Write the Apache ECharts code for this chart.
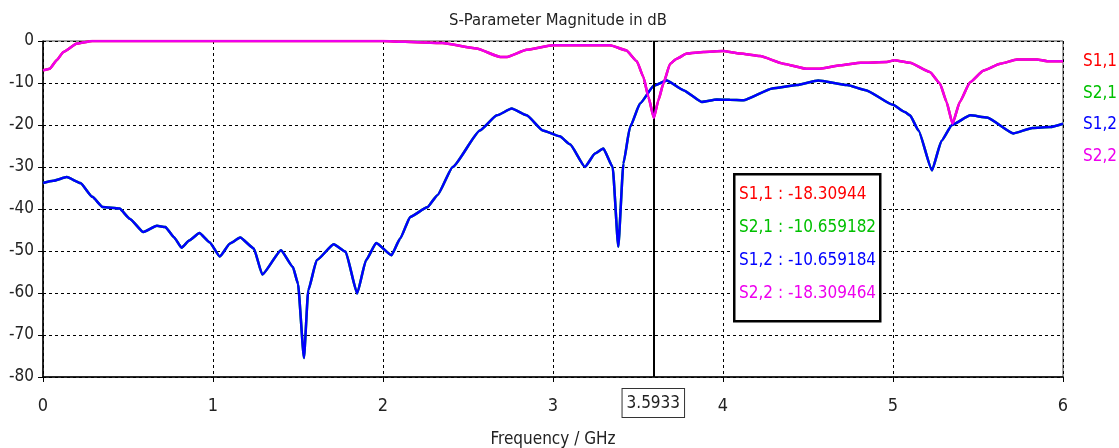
<!DOCTYPE html>
<html>
<head>
<meta charset="utf-8">
<title>S-Parameter Magnitude in dB</title>
<script src="https://cdn.jsdelivr.net/npm/echarts@6.0.0/dist/echarts.min.js"></script>
<style>
  html, body { margin: 0; padding: 0; background: #fff; }
  #chartDiv { width: 1119px; height: 448px; }
</style>
</head>
<body>
<div id="chartDiv"></div>
<script>
// S1,2 / S2,1 (transmission)
var s12Freq = [0, 0.06, 0.14, 0.22, 0.29, 0.35, 0.45, 0.51, 0.59, 0.67, 0.72, 0.77, 0.815, 0.86, 0.92, 0.98,
	1.04, 1.10, 1.16, 1.24, 1.29, 1.40, 1.47, 1.50, 1.535, 1.56, 1.61, 1.71, 1.78, 1.848, 1.90, 1.96,
	2.05, 2.10, 2.16, 2.26, 2.32, 2.41, 2.57, 2.67, 2.757, 2.845, 2.94, 3.04, 3.10, 3.188, 3.247, 3.296,
	3.351, 3.384, 3.414, 3.453, 3.512, 3.5933, 3.669, 3.767, 3.875, 3.963, 4.04, 4.12, 4.29, 4.434, 4.56,
	4.73, 4.84, 5.00, 5.07, 5.10, 5.15, 5.229, 5.285, 5.347, 5.455, 5.553, 5.709, 5.82, 5.925, 6.0];
var s12Db = [-33.8, -33.3, -32.4, -33.8, -37.1, -39.5, -39.9, -42.3, -45.5, -44.0, -44.3, -46.7, -49.2, -47.5, -45.7, -47.9,
	-51.3, -48.2, -46.8, -49.4, -55.6, -49.8, -53.8, -57.8, -75.5, -59.4, -52.2, -48.4, -50.2, -60.1, -52.2, -48.1,
	-51.0, -47.1, -41.9, -39.6, -36.7, -30.0, -21.3, -17.7, -16.1, -17.7, -21.3, -22.7, -24.6, -30.0, -26.8, -25.6,
	-30.0, -49.0, -29.2, -20.5, -14.9, -10.66, -9.4, -11.7, -14.5, -13.95, -14.0, -14.1, -11.3, -10.5, -9.4,
	-10.5, -11.7, -15.2, -16.9, -17.7, -21.3, -30.8, -23.8, -20.0, -17.7, -18.2, -22.0, -20.7, -20.5, -19.7];

// S1,1 / S2,2 (reflection)
var s22Freq = [0, 0.04, 0.08, 0.12, 0.2, 0.29, 1.0, 2.0, 2.13, 2.35, 2.55, 2.69, 2.73, 2.845, 3.0, 3.335,
	3.43, 3.493, 3.532, 3.561, 3.5933, 3.62, 3.65, 3.689, 3.728, 3.787, 3.885, 4.0, 4.1, 4.218, 4.355,
	4.49, 4.57, 4.69, 4.81, 4.964, 5.007, 5.1, 5.217, 5.276, 5.315, 5.35, 5.393, 5.453, 5.533, 5.631,
	5.729, 5.847, 5.906, 6.0];
var s22Db = [-7.0, -6.6, -4.6, -2.6, -0.6, 0, 0, 0, -0.2, -0.5, -1.8, -3.8, -3.8, -2.1, -1.0, -1.0,
	-2.2, -4.8, -8.6, -13.3, -18.31, -14.1, -10.0, -5.4, -4.2, -3.0, -2.6, -2.4, -3.0, -3.6, -5.4,
	-6.6, -6.6, -5.8, -5.2, -5.0, -4.6, -5.2, -7.4, -10.1, -14.5, -19.7, -14.5, -9.8, -7.0, -5.4,
	-4.4, -4.4, -4.8, -4.8];

var seriesNames = ['S1,1', 'S2,1', 'S1,2', 'S2,2'];
var seriesColors = ['#ff0000', '#00c000', '#0000ff', '#ee00ee'];

// marker readout
var markerFreq = 3.5933;
var markerLabels = ['S1,1 : -18.30944', 'S2,1 : -10.659182', 'S1,2 : -10.659184', 'S2,2 : -18.309464'];

var xTicks = [0, 6, 1];     // min, max, interval
var yTicks = [-80, 0, 10];

var fontFam = "'DejaVu Sans Condensed', 'DejaVu Sans', sans-serif";

function pairs(xs, ys) {
	var out = [];
	for (var i = 0; i < xs.length; i++) {
		out.push([xs[i], ys[i]]);
	}
	return out;
}

var myChart = echarts.init(document.getElementById('chartDiv'), null, {renderer: 'canvas'});

var seriesData = [pairs(s22Freq, s22Db), pairs(s12Freq, s12Db), pairs(s12Freq, s12Db), pairs(s22Freq, s22Db)];
var series = [];
for (var i = 0; i < seriesNames.length; i++) {
	series.push({
		name: seriesNames[i],
		type: 'line',
		data: seriesData[i],
		showSymbol: false,
		smooth: 0.15,
		smoothMonotone: 'x',
		lineStyle: {color: seriesColors[i], width: 2.5},
		itemStyle: {color: seriesColors[i]},
		animation: false,
		z: 2 + i
	});
}

// vertical marker line with its frequency box under the axis
series[3].markLine = {
	silent: true,
	symbol: ['none', 'none'],
	animation: false,
	lineStyle: {color: '#000', width: 2, type: 'solid'},
	label: {
		show: true,
		position: 'start',
		distance: 12,
		formatter: String(markerFreq),
		color: '#222',
		fontFamily: fontFam,
		fontSize: 17,
		backgroundColor: '#fff',
		borderColor: '#333',
		borderWidth: 1,
		padding: [6, 4, 5, 4]
	},
	data: [{xAxis: markerFreq}]
};

var legendData = [];
for (var j = 0; j < seriesNames.length; j++) {
	legendData.push({name: seriesNames[j], textStyle: {color: seriesColors[j]}});
}

var boxTexts = [];
for (var k = 0; k < markerLabels.length; k++) {
	boxTexts.push({
		type: 'text',
		left: 739,
		top: 186 + k * 33,
		z: 101,
		style: {text: markerLabels[k], fill: seriesColors[k], font: '17px ' + fontFam}
	});
}

var option = {
	backgroundColor: '#fff',
	animation: false,
	title: {
		text: 'S-Parameter Magnitude in dB',
		left: 553,
		textAlign: 'center',
		top: 7,
		textStyle: {fontFamily: fontFam, fontSize: 16.5, fontWeight: 'normal', color: '#222'}
	},
	legend: {
		data: legendData,
		orient: 'vertical',
		left: 1078,
		top: 52,
		padding: 0,
		icon: 'none',
		itemWidth: 0,
		itemHeight: 20,
		itemGap: 13,
		selectedMode: false,
		textStyle: {fontFamily: fontFam, fontSize: 17, padding: 0}
	},
	grid: {
		left: 43,
		right: 56,
		top: 41,
		bottom: 71,
		outerBoundsMode: 'none',
		containLabel: false,
		show: true,
		borderColor: '#444',
		borderWidth: 1,
		backgroundColor: '#fff'
	},
	xAxis: {
		type: 'value',
		min: xTicks[0],
		max: xTicks[1],
		interval: xTicks[2],
		name: 'Frequency / GHz',
		nameLocation: 'middle',
		nameGap: 54,
		nameTextStyle: {fontFamily: fontFam, fontSize: 17, color: '#222'},
		axisLine: {show: true, onZero: false, lineStyle: {color: '#000', width: 1.5}},
		axisTick: {show: true, length: 5, lineStyle: {color: '#000'}},
		axisLabel: {margin: 20, fontFamily: fontFam, fontSize: 18, color: '#222'},
		splitLine: {show: true, lineStyle: {color: '#000', type: [3, 3], width: 1}}
	},
	yAxis: {
		type: 'value',
		min: yTicks[0],
		max: yTicks[1],
		interval: yTicks[2],
		axisLine: {show: true, onZero: false, lineStyle: {color: '#000', width: 1.5}},
		axisTick: {show: true, length: 5, lineStyle: {color: '#000'}},
		axisLabel: {margin: 9, fontFamily: fontFam, fontSize: 17, color: '#222'},
		splitLine: {show: true, lineStyle: {color: '#000', type: [3, 3], width: 1}}
	},
	graphic: [{
		type: 'rect',
		left: 733,
		top: 173,
		z: 100,
		shape: {width: 146, height: 147},
		style: {fill: '#fff', stroke: '#000', lineWidth: 2.5}
	}].concat(boxTexts),
	series: series
};

myChart.setOption(option);
</script>
</body>
</html>
